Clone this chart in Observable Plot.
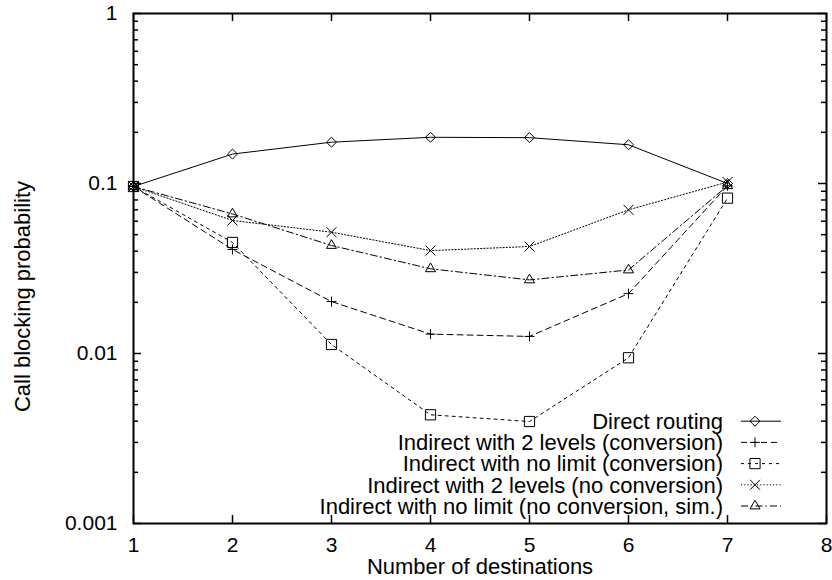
<!DOCTYPE html>
<html>
<head>
<meta charset="utf-8">
<script src="https://cdn.jsdelivr.net/npm/d3@7"></script>
<script src="https://cdn.jsdelivr.net/npm/@observablehq/plot@0.6"></script>
<style>
  body { margin: 0; background: #fff; }
  #chart { width: 832px; height: 580px; }
</style>
</head>
<body>
<div id="chart"></div>
<script>
// ---- data ----
const destinations = [1, 2, 3, 4, 5, 6, 7];
const seriesNames = [
  "Direct routing",
  "Indirect with 2 levels (conversion)",
  "Indirect with no limit (conversion)",
  "Indirect with 2 levels (no conversion)",
  "Indirect with no limit (no conversion, sim.)"
];
const directRouting        = [0.096, 0.149, 0.175, 0.187, 0.186, 0.169, 0.100];
const indirect2Conv        = [0.096, 0.0409, 0.0202, 0.0130, 0.0126, 0.0225, 0.097];
const indirectNoLimitConv  = [0.096, 0.0450, 0.0113, 0.00436, 0.00398, 0.00944, 0.082];
const indirect2NoConv      = [0.096, 0.0606, 0.0517, 0.0403, 0.0426, 0.0700, 0.102];
const indirectNoLimitSim   = [0.096, 0.0662, 0.0432, 0.0315, 0.0271, 0.0310, 0.097];
const xTicks = [1, 2, 3, 4, 5, 6, 7, 8];
const yTicks = [1, 0.1, 0.01, 0.001];
const yMinorTicks = [0.002,0.003,0.004,0.005,0.006,0.007,0.008,0.009,
                     0.02,0.03,0.04,0.05,0.06,0.07,0.08,0.09,
                     0.2,0.3,0.4,0.5,0.6,0.7,0.8,0.9];
const xLabel = "Number of destinations";
const yLabel = "Call blocking probability";

// ---- styles ----
const allValues = [directRouting, indirect2Conv, indirectNoLimitConv, indirect2NoConv, indirectNoLimitSim];
const seriesStyles = [
  {symbol: "diamond2", d3symbol: d3.symbolDiamond2, r: 4.5, dash: null},
  {symbol: "plus", d3symbol: d3.symbolPlus, r: 3.3, dash: "6,4"},
  {symbol: "square2", d3symbol: d3.symbolSquare2, r: 6.5, dash: "3,4"},
  {symbol: "times", d3symbol: d3.symbolTimes, r: 4.6, dash: "1.2,2"},
  {symbol: "triangle2", d3symbol: d3.symbolTriangle2, r: 4.8, dash: "7,3,1.5,3"}
];

const W = 832, H = 580;
const mL = 133, mR = 6, mT = 13, mB = 57;
const plotW = W - mL - mR, plotH = H - mT - mB;
const FONT = "'Liberation Sans', Arial, Helvetica, sans-serif";

const rows = seriesNames.flatMap((name, i) =>
  destinations.map((x, j) => ({series: name, idx: i, x, y: allValues[i][j]})));

const seriesMarks = seriesNames.flatMap((name, i) => {
  const d = rows.filter(r => r.idx === i);
  const s = seriesStyles[i];
  return [
    Plot.line(d, {x: "x", y: "y", stroke: "black", strokeWidth: 1, strokeDasharray: s.dash}),
    Plot.dot(d, {x: "x", y: "y", symbol: s.symbol, r: s.r, stroke: "black", fill: "none", strokeWidth: 1})
  ];
});

const chart = Plot.plot({
  width: W, height: H,
  marginLeft: mL, marginRight: mR, marginTop: mT, marginBottom: mB,
  x: {domain: [1, 8]},
  y: {type: "log", domain: [0.001, 1]},
  style: {fontFamily: FONT, fontSize: "21px", background: "white", color: "black"},
  marks: [
    Plot.axisX(xTicks, {anchor: "bottom", tickSize: 0, tickPadding: 14, fontSize: 21, label: null, tickFormat: d => String(d)}),
    Plot.axisY(yTicks, {anchor: "left", tickSize: 0, tickPadding: 16, fontSize: 21, label: null, tickFormat: d => String(d)}),
    Plot.tickY(yTicks, {y: d => d, insetRight: plotW - 8, stroke: "black", strokeWidth: 1.5}),
    Plot.tickY(yMinorTicks, {y: d => d, insetRight: plotW - 5, stroke: "black", strokeWidth: 1.5}),
    Plot.tickY(yTicks, {y: d => d, insetLeft: plotW - 8, stroke: "black", strokeWidth: 1.5}),
    Plot.tickY(yMinorTicks, {y: d => d, insetLeft: plotW - 5, stroke: "black", strokeWidth: 1.5}),
    Plot.tickX(xTicks, {x: d => d, insetTop: plotH - 8, stroke: "black", strokeWidth: 1.5}),
    Plot.tickX(xTicks, {x: d => d, insetBottom: plotH - 8, stroke: "black", strokeWidth: 1.5}),
    Plot.frame({stroke: "black", strokeWidth: 2}),
    ...seriesMarks,
    Plot.text([xLabel], {text: d => d, frameAnchor: "bottom", dy: 43, fontSize: 22, textAnchor: "middle", lineAnchor: "middle"}),
    Plot.text([yLabel], {text: d => d, frameAnchor: "left", dx: -111, dy: 28, rotate: -90, fontSize: 22, textAnchor: "middle", lineAnchor: "middle"})
  ]
});

// ---- legend (inside plot, bottom right) ----
const svg = d3.select(chart);
const leg = svg.append("g").attr("class", "legend");
const rowH = 21.2;
const legBottom = H - mB - 17;           // centre of last row
const textRight = 723, lineX1 = 741, lineX2 = 781, markX = 755;
seriesNames.forEach((name, i) => {
  const y = legBottom - (seriesNames.length - 1 - i) * rowH;
  const s = seriesStyles[i];
  leg.append("text")
    .attr("x", textRight).attr("y", y).attr("dy", "0.35em")
    .attr("text-anchor", "end")
    .attr("font-family", FONT).attr("font-size", 22).attr("fill", "black")
    .text(name);
  leg.append("line")
    .attr("x1", lineX1).attr("x2", lineX2).attr("y1", y).attr("y2", y)
    .attr("stroke", "black").attr("stroke-width", 1)
    .attr("stroke-dasharray", s.dash);
  leg.append("path")
    .attr("transform", `translate(${markX},${y})`)
    .attr("d", d3.symbol(s.d3symbol, Math.PI * s.r * s.r)())
    .attr("fill", "none").attr("stroke", "black").attr("stroke-width", 1);
});

document.getElementById("chart").appendChild(chart);
</script>
</body>
</html>
